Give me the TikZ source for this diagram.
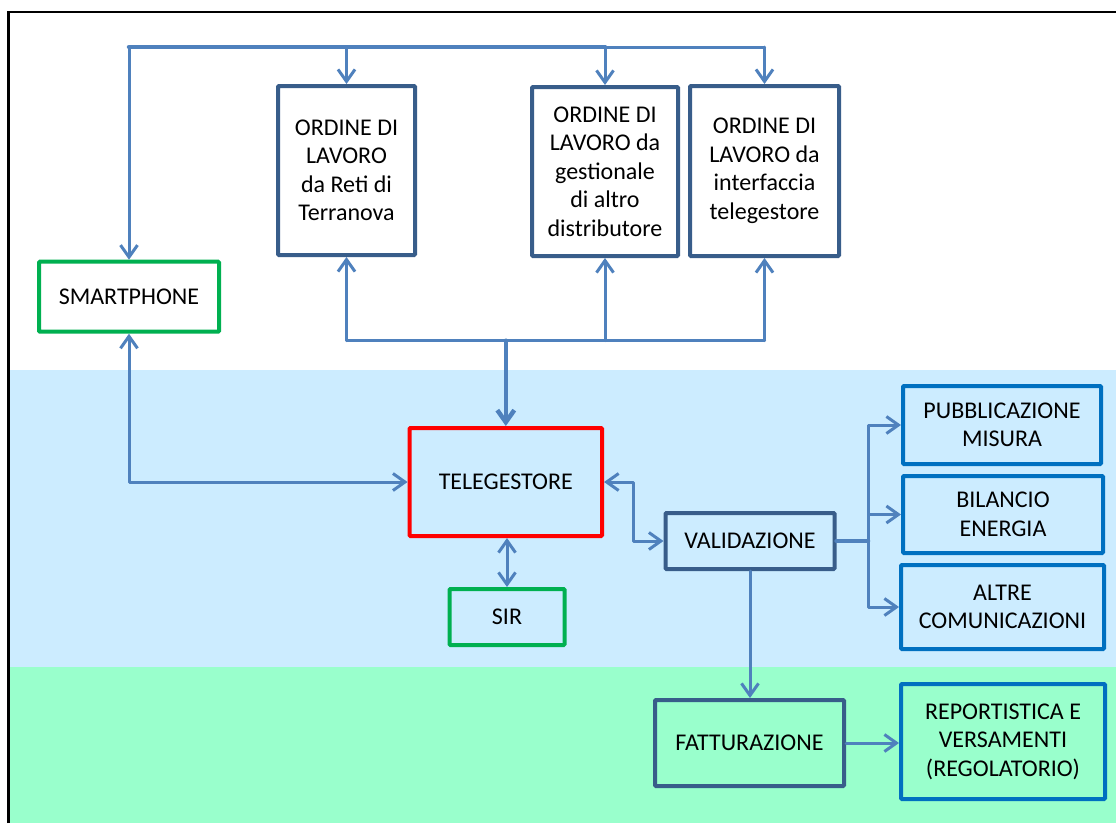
\documentclass[tikz,border=0pt]{standalone}
\usepackage{fontspec}
\setmainfont{Carlito}
\usetikzlibrary{arrows.meta}
\definecolor{conncol}{HTML}{4F81BD}
\definecolor{darkbox}{HTML}{385D8A}
\definecolor{bluebox}{HTML}{0070C0}
\definecolor{greenbox}{HTML}{00B050}
\definecolor{redbox}{HTML}{FF0000}
\definecolor{bgblue}{HTML}{CCECFF}
\definecolor{bggreen}{HTML}{99FFCC}
\begin{document}
\begin{tikzpicture}[x=1pt,y=-1pt,
  box/.style={draw, rectangle, line width=4pt, inner sep=0pt, align=center,
    font=\fontsize{24}{28.5}\selectfont, text=black, rounded corners=1pt},
  ordbox/.style={box, draw=darkbox},
  valbox/.style={box, draw=darkbox},
  outbox/.style={box, draw=bluebox},
  grbox/.style={box, draw=greenbox},
  redbx/.style={box, draw=redbox},
  conn/.style={draw=conncol, line width=3pt, line cap=round, line join=round},
  thickconn/.style={conn, line width=4.5pt},
  >={Straight Barb[length=12pt,width=17pt]}
]
\useasboundingbox (0,0) rectangle (1116,823);
% background bands
\fill[white] (8.5,12) rectangle (1116,370);
\fill[bgblue] (8.5,370) rectangle (1116,666.7);
\fill[bggreen] (8.5,666.7) rectangle (1116,823);
\draw[line width=3pt] (8.5,823) -- (8.5,11);
\draw[line width=2.2pt] (7,11.8) -- (1116,11.8);

% nodes
\node[ordbox, minimum width=137pt, minimum height=169pt] (o1) at (346.5,170.5) {ORDINE DI\\LAVORO\\da Reti di\\Terranova};
\node[ordbox, minimum width=146pt, minimum height=169pt] (o2) at (605,171.5) {ORDINE DI\\LAVORO da\\gestionale\\di altro\\distributore};
\node[ordbox, minimum width=149pt, minimum height=170pt] (o3) at (764.5,171) {ORDINE DI\\LAVORO da\\interfaccia\\telegestore};
\node[grbox, minimum width=180pt, minimum height=70pt] (smart) at (129,296.7) {SMARTPHONE};
\node[redbx, minimum width=192.5pt, minimum height=108pt] (tele) at (505.8,482) {TELEGESTORE};
\node[grbox, minimum width=115pt, minimum height=56pt] (sir) at (507,617) {SIR};
\node[valbox, minimum width=169pt, minimum height=56pt] (val) at (750,541) {VALIDAZIONE};
\node[outbox, minimum width=198pt, minimum height=78pt] (pub) at (1002,425) {PUBBLICAZIONE\\MISURA};
\node[outbox, minimum width=200pt, minimum height=77pt] (bil) at (1003,514.5) {BILANCIO\\ENERGIA};
\node[outbox, minimum width=203pt, minimum height=84pt] (alt) at (1002.5,607) {ALTRE\\COMUNICAZIONI};
\node[valbox, minimum width=189pt, minimum height=86pt] (fat) at (749.5,743) {FATTURAZIONE};
\node[outbox, minimum width=204pt, minimum height=115pt] (rep) at (1003,741.5) {REPORTISTICA E\\VERSAMENTI\\(REGOLATORIO)};

% top bus
\coordinate (btl) at (smart.north |- 0,47);
\draw[thickconn] (btl) -- (o2.north |- btl);
\draw[conn] (o2.north |- btl) -- (o3.north |- btl);
\draw[conn,->] (btl) -- (smart.north);
\draw[conn,->] (o1.north |- btl) -- (o1.north);
\draw[conn,->] (o2.north |- btl) -- (o2.north);
\draw[conn,->] (o3.north |- btl) -- (o3.north);

% bottom bus
\coordinate (bb) at (tele.north |- 0,340.7);
\draw[conn] (o1.south |- bb) -- (o3.south |- bb);
\draw[conn,->] (o1.south |- bb) -- (o1.south);
\draw[conn,->] (o2.south |- bb) -- (o2.south);
\draw[conn,->] (o3.south |- bb) -- (o3.south);
\draw[thickconn,->] (bb) -- (tele.north);

% smartphone <-> telegestore
\draw[conn,<->] (smart.south) |- (tele.west);
% telegestore <-> SIR
\draw[conn,<->] (sir.north |- tele.south) -- (sir.north);
% telegestore <-> validazione
\coordinate (tv) at (633.7,0);
\draw[conn,<->] (tele.east) -| (tv |- val.west) -- (val.west);
% validazione -> outputs
\coordinate (vj) at (868,0);
\draw[thickconn] (val.east) -- (vj |- val.east);
\draw[conn,->] (vj |- val.east) |- (pub.west);
\draw[conn,->] (vj |- val.east) |- (bil.west);
\draw[conn,->] (vj |- val.east) |- (alt.west);
% validazione -> fatturazione
\draw[conn,->] (val.south) -- (val.south |- fat.north);
% fatturazione -> reportistica
\draw[conn,->] (fat.east) -- (rep.west |- fat.east);
\end{tikzpicture}
\end{document}
